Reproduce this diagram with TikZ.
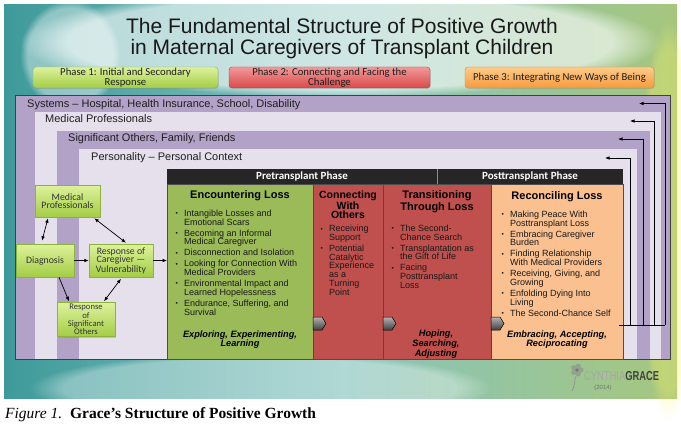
\documentclass[tikz,border=0pt]{standalone}
\usepackage{fontspec}
\setmainfont{Liberation Sans}
\newfontfamily\calfont{Carlito}
\newfontfamily\capfont{Liberation Serif}
\usetikzlibrary{arrows.meta,fadings,shadows}
\definecolor{bgA}{HTML}{3E9A9A}
\definecolor{bgB}{HTML}{86C4BE}
\definecolor{bgC}{HTML}{A6C67E}
\definecolor{purp}{HTML}{B3A2C7}
\definecolor{lav}{HTML}{E6E0EC}
\definecolor{colG}{HTML}{9BBB59}
\definecolor{colR}{HTML}{C0504D}
\definecolor{colO}{HTML}{FAC090}
\definecolor{hdr}{HTML}{262626}
\definecolor{gTop}{HTML}{DDF29C}
\definecolor{gBot}{HTML}{A3CD45}
\definecolor{gLine}{HTML}{8DB33A}
\definecolor{rTop}{HTML}{F29A9A}
\definecolor{rBot}{HTML}{D94848}
\definecolor{rLine}{HTML}{BE4040}
\definecolor{oTop}{HTML}{FCCB8A}
\definecolor{oBot}{HTML}{F79B3C}
\definecolor{oLine}{HTML}{E08A30}
\definecolor{ink}{HTML}{1E1E1E}
\newcommand\mybul{\makebox[9pt][l]{\hspace{0.5pt}\fontsize{6.5}{6.5}\selectfont\raisebox{0.8pt}{•}}}
\newcommand\myind{\hspace*{9pt}}
\tikzset{
  lbl/.style={font=\fontsize{11}{11}\selectfont, text=ink, inner sep=0pt},
  phasebox/.style={rounded corners=3pt, minimum height=21pt, inner sep=1pt, align=center,
     font=\calfont\fontsize{10.7}{9.6}\selectfont, text=ink,
     drop shadow={opacity=0.3, shadow xshift=0.8pt, shadow yshift=-0.8pt}},
  gbox/.style={draw=gLine, line width=0.5pt, top color=gTop, bottom color=gBot, align=center,
     inner sep=1pt, font=\calfont\fontsize{9.8}{8.4}\selectfont, text=black!80,
     drop shadow={opacity=0.35, shadow xshift=1pt, shadow yshift=-1pt}},
  colbox/.style={draw=black!70, line width=0.6pt, inner sep=0pt, outer sep=0pt},
  hdrbox/.style={fill=hdr, inner sep=0pt, outer sep=0pt, minimum height=15pt, text=white,
     font=\calfont\bfseries\fontsize{11}{11}\selectfont},
  coltitle/.style={inner sep=0pt, align=center, font=\bfseries\fontsize{11}{10}\selectfont, text=black},
  blist/.style={inner sep=0pt, align=left, font=\fontsize{9}{8.7}\selectfont, text=black!90},
  motto/.style={inner sep=0pt, align=center, font=\bfseries\itshape\fontsize{9.2}{9}\selectfont, text=black},
  arr/.style={line width=0.7pt, -{Latex[length=4.5pt,width=3.6pt]}},
  darr/.style={line width=0.7pt, {Latex[length=4.5pt,width=3.6pt]}-{Latex[length=4.5pt,width=3.6pt]}},
  chev/.style={top color=black!30, bottom color=black!75, draw=black, line width=0.5pt}
}
\begin{document}
\begin{tikzpicture}[x=1pt,y=-1pt]
\useasboundingbox (0,0) rectangle (681,428);
\fill[white] (0,0) rectangle (681,428);
% background
\shade[left color=bgA, right color=bgC, middle color=bgB] (4,5) rectangle (677,398);
\fill[white, opacity=0.6, path fading=circle with fuzzy edge 15 percent] (340,42) ellipse [x radius=320, y radius=55];
\fill[white, opacity=0.4, path fading=circle with fuzzy edge 15 percent] (70,55) ellipse [x radius=50, y radius=55];
\fill[white, opacity=0.35, path fading=circle with fuzzy edge 15 percent] (260,388) ellipse [x radius=230, y radius=35];
\fill[yellow!60!white, opacity=0.3, path fading=circle with fuzzy edge 15 percent] (668,220) ellipse [x radius=30, y radius=200];
% title
\node[anchor=base, inner sep=0pt, font=\fontsize{21}{21}\selectfont, text=black!90] (t1) at (342,34) {The Fundamental Structure of Positive Growth};
\node[anchor=base, inner sep=0pt, font=\fontsize{21}{21}\selectfont, text=black!90] (t2) at (342,55) {in Maternal Caregivers of Transplant Children};
% phases
\node[phasebox, draw=gLine, top color=gTop, bottom color=gBot, minimum width=185pt] (p1) at (125.5,77.5) {Phase 1: Initial and Secondary\\Response};
\node[phasebox, draw=rLine, top color=rTop, bottom color=rBot, minimum width=201pt] (p2) at (329.5,77.5) {Phase 2: Connecting and Facing the\\Challenge};
\node[phasebox, draw=oLine, top color=oTop, bottom color=oBot, minimum width=189pt] (p3) at (559.5,77.5) {Phase 3: Integrating New Ways of Being};
% nested frame
\fill[purp] (15,95) rectangle (670,359);
\fill[lav] (35,112) rectangle (661,359);
\fill[purp] (57,131) rectangle (650,359);
\fill[lav] (79,149) rectangle (637,359);
\draw[black!75, line width=0.8pt] (15,95) rectangle (670,359);
\node[lbl, anchor=base west] (ls) at (27,107) {Systems – Hospital, Health Insurance, School, Disability};
\node[lbl, anchor=base west] (lm) at (45,123) {Medical Professionals};
\node[lbl, anchor=base west] (lsig) at (68,142) {Significant Others, Family, Friends};
\node[lbl, anchor=base west] (lp) at (91,160.5) {Personality – Personal Context};
% header
\node[hdrbox, minimum width=270pt, anchor=north west] (hpre) at (167,169) {Pretransplant Phase};
\node[hdrbox, minimum width=186pt, anchor=north west] (hpost) at (437,169) {Posttransplant Phase};
\draw[black!45, line width=0.6pt] (hpre.north east) -- (hpre.south east);
% columns
\node[colbox, fill=colG, minimum width=146pt, minimum height=175pt, anchor=north west] (enc) at (167,184) {};
\node[colbox, fill=colR, minimum width=70pt, minimum height=175pt, anchor=north west] (con) at (313,184) {};
\node[colbox, fill=colR, minimum width=108pt, minimum height=175pt, anchor=north west] (tra) at (383,184) {};
\node[colbox, fill=colO, minimum width=132pt, minimum height=175pt, anchor=north west] (rec) at (491,184) {};
% column titles
\node[coltitle, anchor=north] (encT) at (240,190.5) {Encountering Loss};
\node[coltitle, anchor=north, font=\bfseries\fontsize{10.5}{9.4}\selectfont] (conT) at (348,190.5) {Connecting\\With\\Others};
\node[coltitle, anchor=north] (traT) at (437,190.7) {Transitioning\\Through Loss};
\node[coltitle, anchor=north] (recT) at (557,191) {Reconciling Loss};
% bullet lists
\node[blist, anchor=north west] (encL) at (175,209.8) {\mybul Intangible Losses and\\\myind Emotional Scars\\[2.3pt]\mybul Becoming an Informal\\\myind Medical Caregiver\\[2.3pt]\mybul Disconnection and Isolation\\[2.3pt]\mybul Looking for Connection With\\\myind Medical Providers\\[2.3pt]\mybul Environmental Impact and\\\myind Learned Hopelessness\\[2.3pt]\mybul Endurance, Suffering, and\\\myind Survival};
\node[blist, anchor=north west] (conL) at (320,225.1) {\mybul Receiving\\\myind Support\\[2.3pt]\mybul Potential\\\myind Catalytic\\\myind Experience\\\myind as a\\\myind Turning\\\myind Point};
\node[blist, anchor=north west] (traL) at (391,224.8) {\mybul The Second-\\\myind Chance Search\\[2.3pt]\mybul Transplantation as\\\myind the Gift of Life\\[2.3pt]\mybul Facing\\\myind Posttransplant\\\myind Loss};
\node[blist, anchor=north west] (recL) at (501,210.8) {\mybul Making Peace With\\\myind Posttransplant Loss\\[2.3pt]\mybul Embracing Caregiver\\\myind Burden\\[2.3pt]\mybul Finding Relationship\\\myind With Medical Providers\\[2.3pt]\mybul Receiving, Giving, and\\\myind Growing\\[2.3pt]\mybul Enfolding Dying Into\\\myind Living\\[2.3pt]\mybul The Second-Chance Self};
% mottos
\node[motto, anchor=north] (encM) at (240,330.8) {Exploring, Experimenting,\\Learning};
\node[motto, anchor=north, font=\bfseries\itshape\fontsize{9.2}{8}\selectfont] (traM) at (436,330.1) {Hoping,\\Searching,\\Adjusting};
\node[motto, anchor=north] (recM) at (557,330.8) {Embracing, Accepting,\\Reciprocating};
% chevrons
\foreach \cx in {313,383,491}
  \shade[chev] (\cx,317) -- ++(9,0) -- ++(4,6.5) -- ++(-4,6.5) -- ++(-9,0) -- cycle;
% feedback arrows on the right
\coordinate (src) at (619,325);
\coordinate (v1) at (630,325);
\coordinate (v2) at (643,325);
\coordinate (v3) at (654.5,325);
\coordinate (v4) at (665,325);
\coordinate (a1) at (605,158);
\coordinate (a2) at (618,139);
\coordinate (a3) at (630,121);
\coordinate (a4) at (639,103.5);
\draw[line width=0.7pt] (src) -- (v4);
\draw[arr] (v1) |- (a1);
\draw[arr] (v2) |- (a2);
\draw[arr] (v3) |- (a3);
\draw[arr] (v4) |- (a4);
% left diagram
\node[gbox, minimum width=65pt, minimum height=32pt] (mp) at (67.5,201) {Medical\\Professionals};
\node[gbox, minimum width=58pt, minimum height=33pt] (dg) at (45,260.5) {Diagnosis};
\node[gbox, minimum width=64pt, minimum height=33pt] (rc) at (121,260.5) {Response of\\Caregiver —\\Vulnerability};
\node[gbox, minimum width=58pt, minimum height=34pt, font=\calfont\fontsize{8.6}{8.3}\selectfont] (rs) at (86,319.5) {Response\\of\\Significant\\Others};
\draw[darr] ([xshift=-19.5pt,yshift=-1pt]mp.south) -- ([xshift=-3pt,yshift=3pt]dg.north);
\draw[darr] ([xshift=-6pt,yshift=-1pt]mp.south east) -- ([xshift=5pt,yshift=1pt]rc.north);
\draw[arr] (dg.east) -- (rc.west);
\draw[arr] ([xshift=14pt]dg.south) -- ([xshift=-17pt,yshift=1pt]rs.north);
\draw[darr] ([xshift=18pt,yshift=1pt]rs.north) -- ([yshift=-1.5pt]rc.south);
\draw[arr] (rc.east) -- (rc.east -| enc.west);
% logo
\foreach \ang in {0,72,144,216,288}
  \fill[black!45, opacity=0.6] (577,370) ++(\ang:4) circle (2.6);
\fill[black!55] (577,370) circle (1.8);
\draw[black!45, line width=0.6pt] (576,376) .. controls (574,382) and (575,386) .. (572,391);
\node[anchor=base west, inner sep=0pt, font=\fontsize{13}{13}\selectfont] (logo) at (584,380) {\textcolor{black!35}{\scalebox{0.72}[1]{CYNTHIA}}\textcolor{black!75}{\scalebox{0.72}[1]{\bfseries GRACE}}};
\node[anchor=base, inner sep=0pt, font=\fontsize{6}{6}\selectfont, text=black!55] (yr) at (603,389) {(2014)};
% caption
\node[anchor=base west, inner sep=0pt, font=\capfont\fontsize{15.5}{15.5}\selectfont] (cap) at (5,418) {\itshape Figure 1.\upshape\ \ \bfseries Grace’s Structure of Positive Growth};
\end{tikzpicture}
\end{document}
